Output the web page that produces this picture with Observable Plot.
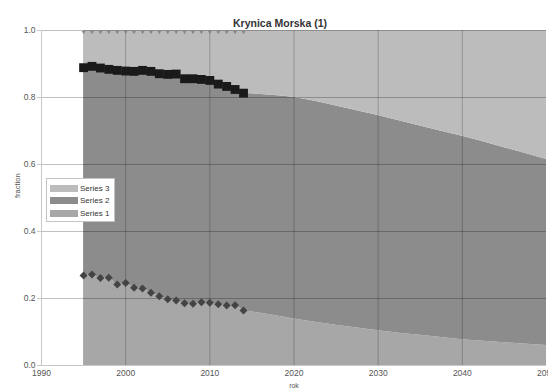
<!DOCTYPE html>
<html><head><meta charset="utf-8">
<script src="https://cdn.jsdelivr.net/npm/d3@7"></script>
<script src="https://cdn.jsdelivr.net/npm/@observablehq/plot@0.6"></script>
<style>
body{margin:0;background:#fff;font-family:"Liberation Sans",Arial,sans-serif;}
#wrap{position:relative;width:548px;height:388px;overflow:hidden;}
#legend{position:absolute;left:46px;top:178px;width:69px;height:44px;border:1px solid #c4c4c4;background:#fff;font-size:8px;color:#333;box-sizing:border-box;padding:3px 0 0 3px;}
.row{display:flex;align-items:center;height:12.5px;}
.sw{width:28px;height:7px;margin-right:2px;}
</style></head>
<body><div id="wrap"><div id="chart"></div><div id="legend"></div></div>
<script>
const titleText = "Krynica Morska (1)";
const xLabel = "rok";
const yLabel = "fraction";
const histYears = [1995,1996,1997,1998,1999,2000,2001,2002,2003,2004,2005,2006,2007,2008,2009,2010,2011,2012,2013,2014];
const squareVals = [0.889,0.893,0.888,0.884,0.881,0.879,0.878,0.881,0.878,0.871,0.869,0.870,0.856,0.856,0.854,0.851,0.840,0.833,0.824,0.813];
const diamondVals = [0.269,0.272,0.261,0.262,0.242,0.246,0.232,0.230,0.217,0.207,0.198,0.194,0.186,0.184,0.189,0.187,0.183,0.179,0.180,0.164];
const triangleVals = [1,1,1,1,1,1,1,1,1,1,1,1,1,1,1,1,1,1,1,1];
const projYears = [2015,2020,2025,2030,2035,2040,2045,2050];
const upperProj = [0.811,0.800,0.775,0.746,0.715,0.684,0.650,0.615];
const lowerProj = [0.160,0.139,0.120,0.104,0.090,0.077,0.068,0.060];
const xTicks = [1990,2000,2010,2020,2030,2040,2050];
const yTicks = [0,0.2,0.4,0.6,0.8,1.0];
const seriesNames = ["Series 3","Series 2","Series 1"];
const seriesColors = ["#bcbcbc","#8c8c8c","#a7a7a7"];

const areaYears = histYears.concat(projYears);
const upper = squareVals.concat(upperProj);
const lower = diamondVals.concat(lowerProj);
const areaData = areaYears.map((yr,i)=>({year:yr, upper:upper[i], lower:lower[i]}));
const hist = histYears.map((yr,i)=>({year:yr, sq:squareVals[i], di:diamondVals[i], tr:triangleVals[i]}));

const chart = Plot.plot({
  width:548, height:388,
  marginLeft:41, marginRight:2, marginTop:30, marginBottom:23,
  style:{fontFamily:"'Liberation Sans',Arial,sans-serif", fontSize:"8px", color:"#555", background:"#fff"},
  x:{domain:[1990,2050]},
  y:{domain:[0,1]},
  marks:[
    Plot.areaY(areaData,{x:"year", y1:0, y2:"lower", fill:seriesColors[2], curve:"monotone-x"}),
    Plot.areaY(areaData,{x:"year", y1:"lower", y2:"upper", fill:seriesColors[1], curve:"monotone-x"}),
    Plot.areaY(areaData,{x:"year", y1:"upper", y2:1, fill:seriesColors[0], curve:"monotone-x"}),
    Plot.ruleX(xTicks.filter(d=>d>1990 && d<2050),{stroke:"#000", strokeOpacity:0.22, strokeWidth:1}),
    Plot.ruleY(yTicks.filter(d=>d>0),{stroke:"#000", strokeOpacity:0.25, strokeWidth:1}),
    Plot.ruleX([1990],{stroke:"#c8c8c8"}),
    Plot.ruleY([0],{stroke:"#c8c8c8"}),
    Plot.axisX({ticks:xTicks, tickFormat:d=>String(d), tickSize:0, tickPadding:4, label:null, fontSize:8.5, fill:"#555"}),
    Plot.axisY({ticks:yTicks, tickFormat:d=>d.toFixed(1), tickSize:4, stroke:"#c8c8c8", tickPadding:2, label:null, fontSize:8.5, fill:"#555"}),
    Plot.text([xLabel],{frameAnchor:"bottom", dy:22, fontSize:7, fill:"#555"}),
    Plot.text([yLabel],{frameAnchor:"left", rotate:-90, dx:-24, fontSize:7.5, fill:"#555"}),
    Plot.text([titleText],{frameAnchor:"top", dy:-11, dx:-14, fontSize:10.5, fontWeight:"bold", fill:"#333"}),
    Plot.dot(hist,{x:"year", y:"tr", symbol:"triangle", rotate:180, r:1.4, fill:"#888", stroke:"none", dy:1.5}),
    Plot.dot(hist,{x:"year", y:"sq", symbol:"square", r:5, fill:"#1a1a1a", stroke:"none"}),
    Plot.dot(hist,{x:"year", y:"di", symbol:"diamond2", r:3.6, fill:"#444", stroke:"none"})
  ]
});
document.getElementById("chart").appendChild(chart);

const leg = document.getElementById("legend");
seriesNames.forEach((n,i)=>{
  const row = document.createElement("div"); row.className="row";
  const sw = document.createElement("div"); sw.className="sw"; sw.style.background=seriesColors[i];
  const t = document.createElement("span"); t.textContent=n;
  row.appendChild(sw); row.appendChild(t); leg.appendChild(row);
});
</script>
</body></html>
